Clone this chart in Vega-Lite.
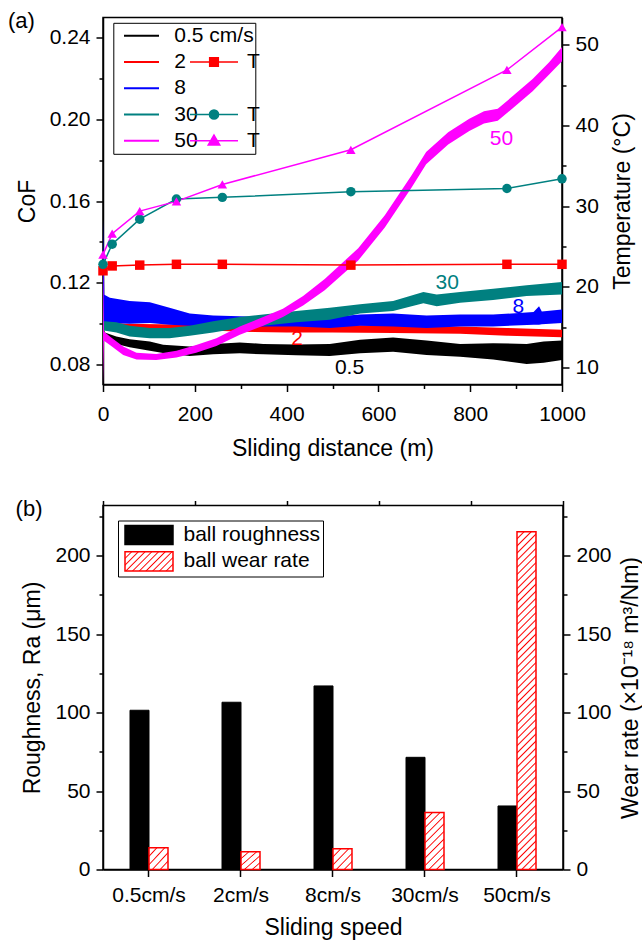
{
  "$schema": "https://vega.github.io/schema/vega-lite/v6.json",
  "background": "white",
  "padding": {"left": 7, "top": 8.5, "right": 2, "bottom": 0},
  "datasets": {
    "cof": [
      {"series":"0.5","x":0,"lo":0.0930,"hi":0.0985},{"series":"0.5","x":4,"lo":0.0927,"hi":0.0955},{"series":"0.5","x":29,"lo":0.0899,"hi":0.0936},{"series":"0.5","x":58,"lo":0.0883,"hi":0.0922},{"series":"0.5","x":102,"lo":0.0866,"hi":0.0911},{"series":"0.5","x":131,"lo":0.0855,"hi":0.0895},{"series":"0.5","x":189,"lo":0.0840,"hi":0.0886},{"series":"0.5","x":240,"lo":0.0848,"hi":0.0899},{"series":"0.5","x":298,"lo":0.0853,"hi":0.0906},{"series":"0.5","x":349,"lo":0.0848,"hi":0.0899},{"series":"0.5","x":421,"lo":0.0843,"hi":0.0896},{"series":"0.5","x":494,"lo":0.0840,"hi":0.0899},{"series":"0.5","x":560,"lo":0.0853,"hi":0.0919},{"series":"0.5","x":632,"lo":0.0861,"hi":0.0931},{"series":"0.5","x":705,"lo":0.0845,"hi":0.0916},{"series":"0.5","x":778,"lo":0.0836,"hi":0.0899},{"series":"0.5","x":850,"lo":0.0823,"hi":0.0902},{"series":"0.5","x":923,"lo":0.0800,"hi":0.0899},{"series":"0.5","x":960,"lo":0.0807,"hi":0.0911},{"series":"0.5","x":1000,"lo":0.0820,"hi":0.0916},
      {"series":"2","x":0,"lo":0.0975,"hi":0.1030},{"series":"2","x":10,"lo":0.0975,"hi":0.1005},{"series":"2","x":50,"lo":0.0970,"hi":0.0998},{"series":"2","x":120,"lo":0.0968,"hi":0.0995},{"series":"2","x":200,"lo":0.0969,"hi":0.0993},{"series":"2","x":300,"lo":0.0959,"hi":0.0988},{"series":"2","x":400,"lo":0.0955,"hi":0.0988},{"series":"2","x":500,"lo":0.0955,"hi":0.0993},{"series":"2","x":632,"lo":0.0952,"hi":0.0988},{"series":"2","x":778,"lo":0.0949,"hi":0.0985},{"series":"2","x":880,"lo":0.0939,"hi":0.0977},{"series":"2","x":1000,"lo":0.0932,"hi":0.0969},
      {"series":"8","x":0,"lo":0.1000,"hi":0.1510},{"series":"8","x":3,"lo":0.1000,"hi":0.1140},{"series":"8","x":15,"lo":0.1002,"hi":0.1126},{"series":"8","x":58,"lo":0.0998,"hi":0.1109},{"series":"8","x":102,"lo":0.1002,"hi":0.1104},{"series":"8","x":145,"lo":0.0993,"hi":0.1076},{"series":"8","x":189,"lo":0.0988,"hi":0.1048},{"series":"8","x":240,"lo":0.0985,"hi":0.1038},{"series":"8","x":298,"lo":0.0988,"hi":0.1035},{"series":"8","x":349,"lo":0.0985,"hi":0.1031},{"series":"8","x":421,"lo":0.0985,"hi":0.1026},{"series":"8","x":494,"lo":0.0977,"hi":0.1031},{"series":"8","x":560,"lo":0.0988,"hi":0.1043},{"series":"8","x":632,"lo":0.0985,"hi":0.1048},{"series":"8","x":705,"lo":0.0977,"hi":0.1038},{"series":"8","x":778,"lo":0.0985,"hi":0.1043},{"series":"8","x":850,"lo":0.0985,"hi":0.1043},{"series":"8","x":938,"lo":0.0993,"hi":0.1055},{"series":"8","x":950,"lo":0.0993,"hi":0.1084},{"series":"8","x":956,"lo":0.0995,"hi":0.1058},{"series":"8","x":1000,"lo":0.1002,"hi":0.1068},
      {"series":"30","x":0,"lo":0.0965,"hi":0.1100},{"series":"30","x":2,"lo":0.0965,"hi":0.1010},{"series":"30","x":29,"lo":0.0955,"hi":0.1005},{"series":"30","x":58,"lo":0.0936,"hi":0.0988},{"series":"30","x":102,"lo":0.0927,"hi":0.0977},{"series":"30","x":145,"lo":0.0927,"hi":0.0977},{"series":"30","x":189,"lo":0.0939,"hi":0.0988},{"series":"30","x":240,"lo":0.0955,"hi":0.1010},{"series":"30","x":298,"lo":0.0977,"hi":0.1031},{"series":"30","x":349,"lo":0.0988,"hi":0.1043},{"series":"30","x":421,"lo":0.1005,"hi":0.1060},{"series":"30","x":494,"lo":0.1018,"hi":0.1076},{"series":"30","x":560,"lo":0.1048,"hi":0.1093},{"series":"30","x":632,"lo":0.1060,"hi":0.1109},{"series":"30","x":698,"lo":0.1098,"hi":0.1154},{"series":"30","x":727,"lo":0.1084,"hi":0.1142},{"series":"30","x":778,"lo":0.1101,"hi":0.1154},{"series":"30","x":850,"lo":0.1114,"hi":0.1170},{"series":"30","x":923,"lo":0.1134,"hi":0.1187},{"series":"30","x":1000,"lo":0.1142,"hi":0.1203},
      {"series":"50","x":0,"lo":0.0700,"hi":0.1340},{"series":"50","x":2,"lo":0.0915,"hi":0.0960},{"series":"50","x":15,"lo":0.0894,"hi":0.0936},{"series":"50","x":44,"lo":0.0845,"hi":0.0886},{"series":"50","x":73,"lo":0.0823,"hi":0.0856},{"series":"50","x":116,"lo":0.0820,"hi":0.0850},{"series":"50","x":160,"lo":0.0833,"hi":0.0866},{"series":"50","x":203,"lo":0.0856,"hi":0.0894},{"series":"50","x":247,"lo":0.0889,"hi":0.0927},{"series":"50","x":298,"lo":0.0944,"hi":0.0985},{"series":"50","x":349,"lo":0.0988,"hi":0.1031},{"series":"50","x":392,"lo":0.1031,"hi":0.1071},{"series":"50","x":436,"lo":0.1088,"hi":0.1134},{"series":"50","x":483,"lo":0.1162,"hi":0.1218},{"series":"50","x":556,"lo":0.1308,"hi":0.1368},{"series":"50","x":614,"lo":0.1470,"hi":0.1530},{"series":"50","x":672,"lo":0.1665,"hi":0.1725},{"series":"50","x":704,"lo":0.1780,"hi":0.1840},{"series":"50","x":752,"lo":0.1877,"hi":0.1937},{"series":"50","x":798,"lo":0.1943,"hi":0.2003},{"series":"50","x":830,"lo":0.1980,"hi":0.2040},{"series":"50","x":860,"lo":0.1993,"hi":0.2053},{"series":"50","x":894,"lo":0.2057,"hi":0.2117},{"series":"50","x":936,"lo":0.2138,"hi":0.2198},{"series":"50","x":972,"lo":0.2220,"hi":0.2280},{"series":"50","x":1000,"lo":0.2285,"hi":0.2355}
    ],
    "cofLabels": [
      {"series":"50","x":868,"cof":0.1906,"label":"50"},
      {"series":"30","x":750,"cof":0.1198,"label":"30"},
      {"series":"8","x":905,"cof":0.1079,"label":"8"},
      {"series":"2","x":423,"cof":0.0922,"label":"2"},
      {"series":"0.5","x":537,"cof":0.0782,"label":"0.5"}
    ],
    "panelA": [{"label":"(a)","x":-207,"cof":0.2449}],
    "panelB": [{"label":"(b)","x":-190,"value":225}],
    "temp": [
      {"series":"T2","x":0,"temp":22.0},{"series":"T2","x":20,"temp":22.6},{"series":"T2","x":80,"temp":22.7},{"series":"T2","x":160,"temp":22.8},{"series":"T2","x":260,"temp":22.8},{"series":"T2","x":540,"temp":22.7},{"series":"T2","x":880,"temp":22.8},{"series":"T2","x":1000,"temp":22.8},
      {"series":"T30","x":0,"temp":22.8},{"series":"T30","x":20,"temp":25.3},{"series":"T30","x":80,"temp":28.4},{"series":"T30","x":160,"temp":30.9},{"series":"T30","x":260,"temp":31.1},{"series":"T30","x":540,"temp":31.8},{"series":"T30","x":880,"temp":32.2},{"series":"T30","x":1000,"temp":33.4},
      {"series":"T50","x":0,"temp":24.0},{"series":"T50","x":20,"temp":26.6},{"series":"T50","x":80,"temp":29.4},{"series":"T50","x":160,"temp":30.6},{"series":"T50","x":260,"temp":32.7},{"series":"T50","x":540,"temp":37.0},{"series":"T50","x":880,"temp":46.9},{"series":"T50","x":1000,"temp":52.2}
    ],
    "bars": [
      {"speed":"0.5cm/s","measure":"roughness","value":101.5},{"speed":"0.5cm/s","measure":"wear","value":13.8},
      {"speed":"2cm/s","measure":"roughness","value":106.6},{"speed":"2cm/s","measure":"wear","value":11.3},
      {"speed":"8cm/s","measure":"roughness","value":117.0},{"speed":"8cm/s","measure":"wear","value":13.2},
      {"speed":"30cm/s","measure":"roughness","value":71.5},{"speed":"30cm/s","measure":"wear","value":36.4},
      {"speed":"50cm/s","measure":"roughness","value":40.5},{"speed":"50cm/s","measure":"wear","value":215.3}
    ]
  },
  "vconcat": [
    {
      "width": 459,
      "height": 367,
      "layer": [
        {
          "layer": [
            {
              "data": {"name": "cof"},
              "mark": {"type": "area", "clip": true},
              "encoding": {
                "x": {"field": "x", "type": "quantitative", "scale": {"domain": [0, 1000], "nice": false},
                  "axis": {"title": "Sliding distance (m)", "values": [0,100,200,300,400,500,600,700,800,900,1000], "format": "d",
                    "labelExpr": "datum.value % 200 === 0 ? datum.label : ''", "labelPadding": 12, "titlePadding": 13,
                    "tickSize": {"condition": {"test": "datum.value % 200 === 0", "value": 7}, "value": 4}}},
                "y": {"field": "lo", "type": "quantitative", "scale": {"domain": [0.07, 0.25], "nice": false, "zero": false},
                  "axis": {"title": "CoF", "values": [0.08,0.10,0.12,0.14,0.16,0.18,0.20,0.22,0.24], "format": ".2f",
                    "labelExpr": "round(datum.value*100) % 4 === 0 ? datum.label : ''", "titlePadding": 10,
                    "tickSize": {"condition": {"test": "round(datum.value*100) % 4 === 0", "value": 7}, "value": 4}}},
                "y2": {"field": "hi"},
                "color": {"field": "series", "type": "nominal",
                  "scale": {"domain": ["0.5","2","8","30","50"], "range": ["#000000","#ff0000","#0000ff","#008080","#ff00ff"]},
                  "legend": {
                    "orient": "none", "legendX": 10.3, "legendY": 5.3, "title": null,
                    "strokeColor": "#000000", "fillColor": "#ffffff", "padding": 1,
                    "symbolType": "stroke", "symbolSize": 1225, "symbolStrokeWidth": 2,
                    "symbolOffset": 8.7, "labelOffset": 14.3, "clipHeight": 24, "rowPadding": 2.25,
                    "labelFontSize": 21, "labelLimit": 400,
                    "labelExpr": "datum.value === '0.5' ? '0.5 cm/s\u00a0\u00a0\u00a0\u00a0\u00a0' : (datum.value === '2' || datum.value === '8') ? '\u00a0' + datum.value : datum.value",
                    "zindex": 1,
                    "encode": {"symbols": {"update": {
                      "shape": {"value": "stroke"},
                      "stroke": [{"test": "datum.value === '0.5'", "value": "#000000"}, {"test": "datum.value === '2'", "value": "#ff0000"}, {"test": "datum.value === '8'", "value": "#0000ff"}, {"test": "datum.value === '30'", "value": "#008080"}, {"value": "#ff00ff"}],
                      "strokeWidth": {"value": 2}
                    }}}
                  }
                }
              }
            },
            {
              "data": {"name": "cofLabels"},
              "mark": {"type": "text", "fontSize": 21, "baseline": "middle", "align": "center"},
              "encoding": {
                "x": {"field": "x", "type": "quantitative", "scale": {"domain": [0, 1000], "nice": false}},
                "y": {"field": "cof", "type": "quantitative", "scale": {"domain": [0.07, 0.25], "nice": false, "zero": false}},
                "text": {"field": "label"},
                "color": {"field": "series", "type": "nominal", "legend": null}
              }
            },
            {
              "data": {"name": "panelA"},
              "mark": {"type": "text", "fontSize": 22, "baseline": "alphabetic", "align": "left", "fill": "#000000", "clip": false},
              "encoding": {
                "x": {"field": "x", "type": "quantitative", "scale": {"domain": [0, 1000], "nice": false}},
                "y": {"field": "cof", "type": "quantitative", "scale": {"domain": [0.07, 0.25], "nice": false, "zero": false}},
                "text": {"field": "label"}
              }
            }
          ]
        },
        {
          "layer": [
            {
              "data": {"name": "temp"},
              "mark": {"type": "line", "strokeWidth": 1.5},
              "encoding": {
                "x": {"field": "x", "type": "quantitative", "scale": {"domain": [0, 1000], "nice": false}},
                "y": {"field": "temp", "type": "quantitative", "scale": {"domain": [7.9, 53.4], "nice": false, "zero": false},
                  "axis": {"orient": "right", "title": "Temperature (°C)", "titleAngle": 270, "titleBaseline": "top", "values": [10,15,20,25,30,35,40,45,50], "format": "d",
                    "labelExpr": "datum.value % 10 === 0 ? datum.label : ''", "titlePadding": 13,
                    "tickSize": {"condition": {"test": "datum.value % 10 === 0", "value": 7}, "value": 4}}},
                "stroke": {"field": "series", "type": "nominal",
                  "scale": {"domain": ["T0.5","T2","T8","T30","T50"], "range": ["transparent","#ff0000","transparent","#008080","#ff00ff"]},
                  "legend": {
                    "orient": "none", "legendX": 85, "legendY": 5.3, "title": null, "padding": 1,
                    "symbolSize": 2304, "symbolStrokeWidth": 1.5, "clipHeight": 24, "rowPadding": 2.25,
                    "labelOffset": 8, "labelFontSize": 21,
                    "labelExpr": "indexof(['T2','T30','T50'], datum.value) >= 0 ? 'T' : ''",
                    "zindex": 2,
                    "encode": {"symbols": {"update": {
                      "shape": [{"test": "datum.value === 'T2'", "value": "M-1,0H1M-0.18,-0.18H0.18V0.18H-0.18Z"}, {"test": "datum.value === 'T30'", "value": "M-1,0H1M0.19,0A0.19,0.19,0,1,1,-0.19,0A0.19,0.19,0,1,1,0.19,0Z"}, {"value": "M-1,0H1M0,-0.24L0.24,0.17H-0.24Z"}],
                      "fill": [{"test": "datum.value === 'T2'", "value": "#ff0000"}, {"test": "datum.value === 'T30'", "value": "#008080"}, {"test": "datum.value === 'T50'", "value": "#ff00ff"}, {"value": "transparent"}],
                      "strokeWidth": {"value": 1.5}
                    }}}
                  }
                }
              }
            },
            {
              "data": {"name": "temp"},
              "mark": {"type": "point", "filled": true, "size": 90, "opacity": 1},
              "encoding": {
                "x": {"field": "x", "type": "quantitative", "scale": {"domain": [0, 1000], "nice": false}},
                "y": {"field": "temp", "type": "quantitative", "scale": {"domain": [7.9, 53.4], "nice": false, "zero": false}},
                "fill": {"field": "series", "type": "nominal", "scale": {"domain": ["T2","T30","T50"], "range": ["#ff0000","#008080","#ff00ff"]}, "legend": null},
                "shape": {"field": "series", "type": "nominal", "scale": {"domain": ["T2","T30","T50"], "range": ["square","circle","triangle-up"]}, "legend": null}
              }
            }
          ]
        }
      ],
      "resolve": {"scale": {"y": "independent"}}
    },
    {
      "width": 460,
      "height": 364,
      "data": {"name": "bars"},
      "layer": [
        {
          "transform": [{"filter": "datum.measure === 'roughness'"}],
          "mark": {"type": "bar", "strokeWidth": 1},
          "encoding": {
            "x": {"field": "speed", "type": "nominal", "sort": null,
              "scale": {"domain": ["0.5cm/s","2cm/s","8cm/s","30cm/s","50cm/s"], "paddingInner": 0.587, "paddingOuter": 0.2935},
              "axis": {"title": "Sliding speed", "labelAngle": 0, "tickSize": 7, "labelPadding": 8, "titlePadding": 11}},
            "xOffset": {"field": "measure", "type": "nominal", "scale": {"domain": ["roughness","wear"], "paddingInner": 0, "paddingOuter": 0}},
            "y": {"field": "value", "type": "quantitative", "scale": {"domain": [0, 232], "nice": false},
              "axis": {"title": "Roughness, Ra (μm)", "values": [0,25,50,75,100,125,150,175,200,225], "format": "d",
                "labelExpr": "datum.value % 50 === 0 ? datum.label : ''", "titlePadding": 10,
                "tickSize": {"condition": {"test": "datum.value % 50 === 0", "value": 7}, "value": 4}}},
            "fill": {"field": "measure", "type": "nominal", "scale": {"domain": ["roughness"], "range": ["#000000"]}, "legend": null},
            "stroke": {"field": "measure", "type": "nominal",
              "scale": {"domain": ["roughness","wear"], "range": ["#000000","#ff0000"]},
              "legend": {
                "orient": "none", "legendX": 15, "legendY": 15, "title": null,
                "strokeColor": "#000000", "fillColor": "#ffffff", "padding": 2.5,
                "symbolSize": 2304, "symbolStrokeWidth": 1.5, "symbolOffset": 3.5, "labelOffset": 9.5, "symbolFillColor": "#000000",
                "clipHeight": 24, "rowPadding": 2.3, "labelFontSize": 21, "labelLimit": 400,
                "labelExpr": "datum.value === 'roughness' ? 'ball roughness\u00a0\u00a0' : 'ball wear rate'",
                "encode": {"symbols": {"update": {
                  "shape": {"value": "M-1,-0.4H1V0.4H-1Z"},
                  "strokeWidth": {"value": 1.5},
                  "fill": [{"test": "datum.value === 'roughness'", "value": "#000000"},
                    {"value": {"gradient": "linear", "x1": 0, "y1": 0, "x2": 1.207, "y2": 0.483, "stops": [
                      {"offset":0,"color":"#f00"},{"offset":0.02,"color":"#fff"},{"offset":0.08,"color":"#fff"},
                      {"offset":0.1,"color":"#f00"},{"offset":0.12,"color":"#fff"},{"offset":0.18,"color":"#fff"},
                      {"offset":0.2,"color":"#f00"},{"offset":0.22,"color":"#fff"},{"offset":0.28,"color":"#fff"},
                      {"offset":0.3,"color":"#f00"},{"offset":0.32,"color":"#fff"},{"offset":0.38,"color":"#fff"},
                      {"offset":0.4,"color":"#f00"},{"offset":0.42,"color":"#fff"},{"offset":0.48,"color":"#fff"},
                      {"offset":0.5,"color":"#f00"},{"offset":0.52,"color":"#fff"},{"offset":0.58,"color":"#fff"},
                      {"offset":0.6,"color":"#f00"},{"offset":0.62,"color":"#fff"},{"offset":0.68,"color":"#fff"},
                      {"offset":0.7,"color":"#f00"},{"offset":0.72,"color":"#fff"},{"offset":0.78,"color":"#fff"},
                      {"offset":0.8,"color":"#f00"},{"offset":0.82,"color":"#fff"},{"offset":0.88,"color":"#fff"},
                      {"offset":0.9,"color":"#f00"},{"offset":0.92,"color":"#fff"},{"offset":0.98,"color":"#fff"},
                      {"offset":1,"color":"#f00"}]}}]
                }}}
              }
            }
          }
        },
        {
          "transform": [{"filter": "datum.measure === 'wear'"}],
          "mark": {"type": "bar", "strokeWidth": 1.5},
          "encoding": {
            "x": {"field": "speed", "type": "nominal", "sort": null,
              "scale": {"domain": ["0.5cm/s","2cm/s","8cm/s","30cm/s","50cm/s"], "paddingInner": 0.587, "paddingOuter": 0.2935},
              "axis": null},
            "xOffset": {"field": "measure", "type": "nominal", "scale": {"domain": ["roughness","wear"], "paddingInner": 0, "paddingOuter": 0}},
            "y": {"field": "value", "type": "quantitative", "scale": {"domain": [0, 232], "nice": false},
              "axis": {"orient": "right", "title": "Wear rate (×10⁻¹⁸ m³/Nm)", "titleAngle": 270, "titleBaseline": "top", "values": [0,25,50,75,100,125,150,175,200,225], "format": "d",
                "labelExpr": "datum.value % 50 === 0 ? datum.label : ''", "titlePadding": 8,
                "tickSize": {"condition": {"test": "datum.value % 50 === 0", "value": 7}, "value": 4}}},
            "stroke": {"field": "measure", "type": "nominal"},
            "fill": {
              "condition": [
                {"test": "datum.speed === '50cm/s'", "value": {"gradient": "linear", "x1": 0, "y1": 0, "x2": 0.0594, "y2": 1.053, "stops": [
                  {"offset":0,"color":"#f00"},{"offset":0.004,"color":"#fff"},{"offset":0.016,"color":"#fff"},
                  {"offset":0.02,"color":"#f00"},{"offset":0.024,"color":"#fff"},{"offset":0.036,"color":"#fff"},
                  {"offset":0.04,"color":"#f00"},{"offset":0.044,"color":"#fff"},{"offset":0.056,"color":"#fff"},
                  {"offset":0.06,"color":"#f00"},{"offset":0.064,"color":"#fff"},{"offset":0.076,"color":"#fff"},
                  {"offset":0.08,"color":"#f00"},{"offset":0.084,"color":"#fff"},{"offset":0.096,"color":"#fff"},
                  {"offset":0.1,"color":"#f00"},{"offset":0.104,"color":"#fff"},{"offset":0.116,"color":"#fff"},
                  {"offset":0.12,"color":"#f00"},{"offset":0.124,"color":"#fff"},{"offset":0.136,"color":"#fff"},
                  {"offset":0.14,"color":"#f00"},{"offset":0.144,"color":"#fff"},{"offset":0.156,"color":"#fff"},
                  {"offset":0.16,"color":"#f00"},{"offset":0.164,"color":"#fff"},{"offset":0.176,"color":"#fff"},
                  {"offset":0.18,"color":"#f00"},{"offset":0.184,"color":"#fff"},{"offset":0.196,"color":"#fff"},
                  {"offset":0.2,"color":"#f00"},{"offset":0.204,"color":"#fff"},{"offset":0.216,"color":"#fff"},
                  {"offset":0.22,"color":"#f00"},{"offset":0.224,"color":"#fff"},{"offset":0.236,"color":"#fff"},
                  {"offset":0.24,"color":"#f00"},{"offset":0.244,"color":"#fff"},{"offset":0.256,"color":"#fff"},
                  {"offset":0.26,"color":"#f00"},{"offset":0.264,"color":"#fff"},{"offset":0.276,"color":"#fff"},
                  {"offset":0.28,"color":"#f00"},{"offset":0.284,"color":"#fff"},{"offset":0.296,"color":"#fff"},
                  {"offset":0.3,"color":"#f00"},{"offset":0.304,"color":"#fff"},{"offset":0.316,"color":"#fff"},
                  {"offset":0.32,"color":"#f00"},{"offset":0.324,"color":"#fff"},{"offset":0.336,"color":"#fff"},
                  {"offset":0.34,"color":"#f00"},{"offset":0.344,"color":"#fff"},{"offset":0.356,"color":"#fff"},
                  {"offset":0.36,"color":"#f00"},{"offset":0.364,"color":"#fff"},{"offset":0.376,"color":"#fff"},
                  {"offset":0.38,"color":"#f00"},{"offset":0.384,"color":"#fff"},{"offset":0.396,"color":"#fff"},
                  {"offset":0.4,"color":"#f00"},{"offset":0.404,"color":"#fff"},{"offset":0.416,"color":"#fff"},
                  {"offset":0.42,"color":"#f00"},{"offset":0.424,"color":"#fff"},{"offset":0.436,"color":"#fff"},
                  {"offset":0.44,"color":"#f00"},{"offset":0.444,"color":"#fff"},{"offset":0.456,"color":"#fff"},
                  {"offset":0.46,"color":"#f00"},{"offset":0.464,"color":"#fff"},{"offset":0.476,"color":"#fff"},
                  {"offset":0.48,"color":"#f00"},{"offset":0.484,"color":"#fff"},{"offset":0.496,"color":"#fff"},
                  {"offset":0.5,"color":"#f00"},{"offset":0.504,"color":"#fff"},{"offset":0.516,"color":"#fff"},
                  {"offset":0.52,"color":"#f00"},{"offset":0.524,"color":"#fff"},{"offset":0.536,"color":"#fff"},
                  {"offset":0.54,"color":"#f00"},{"offset":0.544,"color":"#fff"},{"offset":0.556,"color":"#fff"},
                  {"offset":0.56,"color":"#f00"},{"offset":0.564,"color":"#fff"},{"offset":0.576,"color":"#fff"},
                  {"offset":0.58,"color":"#f00"},{"offset":0.584,"color":"#fff"},{"offset":0.596,"color":"#fff"},
                  {"offset":0.6,"color":"#f00"},{"offset":0.604,"color":"#fff"},{"offset":0.616,"color":"#fff"},
                  {"offset":0.62,"color":"#f00"},{"offset":0.624,"color":"#fff"},{"offset":0.636,"color":"#fff"},
                  {"offset":0.64,"color":"#f00"},{"offset":0.644,"color":"#fff"},{"offset":0.656,"color":"#fff"},
                  {"offset":0.66,"color":"#f00"},{"offset":0.664,"color":"#fff"},{"offset":0.676,"color":"#fff"},
                  {"offset":0.68,"color":"#f00"},{"offset":0.684,"color":"#fff"},{"offset":0.696,"color":"#fff"},
                  {"offset":0.7,"color":"#f00"},{"offset":0.704,"color":"#fff"},{"offset":0.716,"color":"#fff"},
                  {"offset":0.72,"color":"#f00"},{"offset":0.724,"color":"#fff"},{"offset":0.736,"color":"#fff"},
                  {"offset":0.74,"color":"#f00"},{"offset":0.744,"color":"#fff"},{"offset":0.756,"color":"#fff"},
                  {"offset":0.76,"color":"#f00"},{"offset":0.764,"color":"#fff"},{"offset":0.776,"color":"#fff"},
                  {"offset":0.78,"color":"#f00"},{"offset":0.784,"color":"#fff"},{"offset":0.796,"color":"#fff"},
                  {"offset":0.8,"color":"#f00"},{"offset":0.804,"color":"#fff"},{"offset":0.816,"color":"#fff"},
                  {"offset":0.82,"color":"#f00"},{"offset":0.824,"color":"#fff"},{"offset":0.836,"color":"#fff"},
                  {"offset":0.84,"color":"#f00"},{"offset":0.844,"color":"#fff"},{"offset":0.856,"color":"#fff"},
                  {"offset":0.86,"color":"#f00"},{"offset":0.864,"color":"#fff"},{"offset":0.876,"color":"#fff"},
                  {"offset":0.88,"color":"#f00"},{"offset":0.884,"color":"#fff"},{"offset":0.896,"color":"#fff"},
                  {"offset":0.9,"color":"#f00"},{"offset":0.904,"color":"#fff"},{"offset":0.916,"color":"#fff"},
                  {"offset":0.92,"color":"#f00"},{"offset":0.924,"color":"#fff"},{"offset":0.936,"color":"#fff"},
                  {"offset":0.94,"color":"#f00"},{"offset":0.944,"color":"#fff"},{"offset":0.956,"color":"#fff"},
                  {"offset":0.96,"color":"#f00"},{"offset":0.964,"color":"#fff"},{"offset":0.976,"color":"#fff"},
                  {"offset":0.98,"color":"#f00"},{"offset":0.984,"color":"#fff"},{"offset":0.996,"color":"#fff"},
                  {"offset":1,"color":"#f00"}]}},
                {"test": "datum.speed === '30cm/s'", "value": {"gradient": "linear", "x1": 0, "y1": 0, "x2": 0.4, "y2": 1.2, "stops": [
                  {"offset":0,"color":"#f00"},{"offset":0.017,"color":"#fff"},{"offset":0.083,"color":"#fff"},
                  {"offset":0.1,"color":"#f00"},{"offset":0.117,"color":"#fff"},{"offset":0.183,"color":"#fff"},
                  {"offset":0.2,"color":"#f00"},{"offset":0.217,"color":"#fff"},{"offset":0.283,"color":"#fff"},
                  {"offset":0.3,"color":"#f00"},{"offset":0.317,"color":"#fff"},{"offset":0.383,"color":"#fff"},
                  {"offset":0.4,"color":"#f00"},{"offset":0.417,"color":"#fff"},{"offset":0.483,"color":"#fff"},
                  {"offset":0.5,"color":"#f00"},{"offset":0.517,"color":"#fff"},{"offset":0.583,"color":"#fff"},
                  {"offset":0.6,"color":"#f00"},{"offset":0.617,"color":"#fff"},{"offset":0.683,"color":"#fff"},
                  {"offset":0.7,"color":"#f00"},{"offset":0.717,"color":"#fff"},{"offset":0.783,"color":"#fff"},
                  {"offset":0.8,"color":"#f00"},{"offset":0.817,"color":"#fff"},{"offset":0.883,"color":"#fff"},
                  {"offset":0.9,"color":"#f00"},{"offset":0.917,"color":"#fff"},{"offset":0.983,"color":"#fff"},
                  {"offset":1,"color":"#f00"}]}}
              ],
              "value": {"gradient": "linear", "x1": 0, "y1": 0, "x2": 0.97, "y2": 1.03, "stops": [
                {"offset":0,"color":"#f00"},{"offset":0.033,"color":"#fff"},{"offset":0.167,"color":"#fff"},
                {"offset":0.2,"color":"#f00"},{"offset":0.233,"color":"#fff"},{"offset":0.367,"color":"#fff"},
                {"offset":0.4,"color":"#f00"},{"offset":0.433,"color":"#fff"},{"offset":0.567,"color":"#fff"},
                {"offset":0.6,"color":"#f00"},{"offset":0.633,"color":"#fff"},{"offset":0.767,"color":"#fff"},
                {"offset":0.8,"color":"#f00"},{"offset":0.833,"color":"#fff"},{"offset":0.967,"color":"#fff"},
                {"offset":1,"color":"#f00"}]}
            }
          }
        },
        {
          "transform": [{"filter": "false"}],
          "mark": {"type": "rule"},
          "encoding": {
            "x": {"field": "speed", "type": "nominal", "sort": null,
              "scale": {"domain": ["0.5cm/s","2cm/s","8cm/s","30cm/s","50cm/s"], "paddingInner": 0, "paddingOuter": 0},
              "axis": {"tickBand": "extent", "labels": false, "domain": false, "title": null, "tickSize": 5}}
          }
        },
        {
          "data": {"name": "panelB"},
          "mark": {"type": "text", "fontSize": 22, "baseline": "alphabetic", "align": "left", "fill": "#000000", "clip": false},
          "encoding": {
            "x": {"field": "x", "type": "quantitative", "scale": {"domain": [0, 1000], "nice": false, "zero": false}, "axis": null},
            "y": {"field": "value", "type": "quantitative", "scale": {"domain": [0, 232], "nice": false}, "axis": null},
            "text": {"field": "label"}
          }
        }
      ],
      "resolve": {"scale": {"y": "independent", "x": "independent"}, "axis": {"x": "independent"}}
    }
  ],
  "spacing": 36,
  "resolve": {"scale": {"color": "independent", "stroke": "independent", "fill": "independent", "shape": "independent"}},
  "config": {
    "font": "Liberation Sans",
    "view": {"stroke": "#000000", "strokeWidth": 1.5},
    "axis": {"grid": false, "domainColor": "#000000", "domainWidth": 1.5, "tickColor": "#000000", "tickWidth": 1.5, "tickSize": 7,
      "labelFont": "Liberation Sans", "labelFontSize": 21, "labelColor": "#000000", "labelPadding": 6, "labelOverlap": false, "labelFlush": false,
      "titleFont": "Liberation Sans", "titleFontSize": 23, "titleFontWeight": "normal", "titleColor": "#000000"},
    "legend": {"labelFont": "Liberation Sans", "labelFontSize": 21, "labelColor": "#000000", "labelLimit": 400},
    "title": {"font": "Liberation Sans", "fontWeight": "normal", "color": "#000000"}
  }
}
